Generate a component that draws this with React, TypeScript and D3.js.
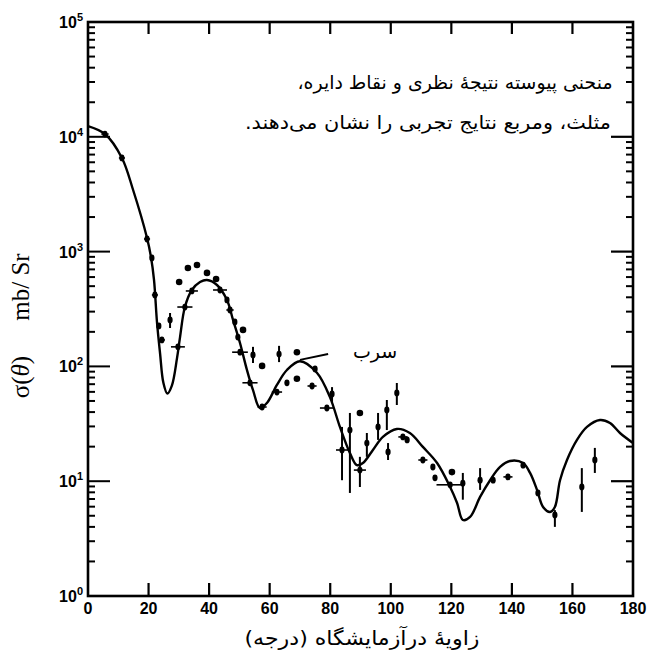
import React from "react";
import * as d3 from "d3";

// Theoretical (continuous) curve, angle in degrees, cross-section in mb/Sr
const theoryAngle = [0, 5.6, 11.2, 14.9, 19.5, 20.8, 21.8, 22.8, 23.8, 24.9, 26.2, 27.7, 29.4, 30.4, 32.0, 34.3, 37.0, 39.3, 42.6, 45.9, 47.9, 50.2, 52.5, 54.5, 56.8, 59.1, 62.4, 65.7, 70.0, 75.6, 79.9, 83.2, 86.5, 88.8, 90.8, 94.1, 97.4, 102.0, 106.3, 110.6, 115.3, 119.6, 121.9, 123.8, 126.2, 129.5, 132.8, 136.1, 139.4, 143.7, 146.0, 148.3, 150.3, 152.6, 154.2, 155.9, 158.2, 161.5, 164.8, 169.1, 172.4, 175.7, 180];
const theoryValue = [12400, 10570, 6540, 3440, 1313, 897, 566, 240, 130, 72, 58, 68, 118, 180, 329, 463, 543, 566, 512, 379, 254, 160, 93, 62, 43.4, 48, 69, 93, 111, 88, 54, 29.7, 17.6, 13.8, 14.4, 18.7, 24.3, 28.5, 26.3, 19.9, 14.4, 8.9, 6.46, 4.59, 4.88, 7.3, 10.2, 13.3, 15.0, 14.4, 11.8, 8.4, 5.96, 5.39, 5.96, 10.2, 15.3, 22.9, 29.7, 34.1, 32.1, 26.3, 21.5];

// Experimental points: filled circles
const circleAngle = [30.1, 33.0, 36.0, 39.3, 42.3, 51.2, 57.5, 69.0, 69.0, 89.8, 120.2];
const circleValue = [543, 720, 764, 652, 577, 208, 101, 133, 78, 39.3, 12.0];

// Experimental points: triangles / squares with error bars
const pointAngle = [5.6, 11.2, 19.5, 21.1, 22.1, 23.4, 24.4, 27.1, 29.7, 32.0, 34.3, 43.6, 45.9, 46.9, 48.5, 49.5, 50.2, 54.5, 53.5, 57.5, 63.1, 62.4, 65.7, 74.0, 75.0, 80.6, 78.9, 83.9, 86.5, 89.8, 92.1, 95.8, 98.7, 99.1, 102.0, 104.0, 105.4, 110.6, 113.9, 114.6, 119.6, 123.8, 129.5, 133.8, 138.7, 143.7, 148.6, 154.2, 163.1, 167.4];
const pointValue = [10570, 6540, 1288, 880, 419, 225, 170, 254, 148, 329, 454, 463, 379, 310, 244, 180, 133, 126, 72, 44.3, 128, 59.8, 72, 67.5, 95, 57.5, 43.4, 18.7, 27.9, 12.5, 21.5, 29.7, 41.7, 18.0, 58.7, 24.3, 22.9, 15.3, 13.3, 10.7, 9.3, 9.6, 10.2, 10.2, 10.9, 13.8, 7.9, 5.08, 8.9, 15.3];
const pointLow: (number | null)[] = [null, null, null, null, null, null, null, 216, null, null, null, null, null, null, null, null, null, 107, null, null, 109, null, null, null, null, 49, null, 10.2, 7.9, 8.9, 16.3, 22.9, 27.9, 15.3, 46.1, null, null, null, null, null, null, 6.9, 8.4, null, null, null, null, 4.0, 5.4, 11.8];
const pointHigh: (number | null)[] = [null, null, null, null, null, null, null, 292, null, null, null, null, null, null, null, null, null, 148, null, null, 151, null, null, null, null, 66, null, 29.7, 39.3, 16.3, 26.3, 39.3, 51, 21.5, 71.7, null, null, null, null, null, null, 11.8, 13.0, null, null, null, null, 5.6, 13.0, 19.5];
const pointSpread = [1.2, 1.0, 1.0, 0, 1.0, 0, 1.0, 0, 2.3, 2.5, 2.0, 2.3, 0, 1.2, 0, 0, 2.6, 0, 2.5, 1.5, 0, 1.7, 0, 1.5, 0, 0, 2.3, 2.0, 0, 2.0, 0, 0, 0, 0, 0, 1.5, 0, 1.5, 0, 0, 4.5, 0, 0, 0, 1.5, 0, 0, 0, 0, 0];

const xTicks = [0, 20, 40, 60, 80, 100, 120, 140, 160, 180];
const yExponents = [0, 1, 2, 3, 4, 5];

const noteLines = [
  "منحنی پیوسته نتیجهٔ نظری و نقاط دایره،",
  "مثلث، ومربع نتایج تجربی را نشان می‌دهند.",
];
const leadLabel = "سرب";
const xTitle = "زاویهٔ درآزمایشگاه (درجه)";

export default function App() {
  const W = 656, H = 652;
  const left = 88, right = 633, top = 22, bottom = 596;
  const x = d3.scaleLinear().domain([0, 180]).range([left, right]);
  const y = d3.scaleLog().domain([1, 1e5]).range([bottom, top]);

  const line = d3
    .line<number>()
    .x((_, i) => x(theoryAngle[i]))
    .y((d) => y(d))
    .curve(d3.curveCatmullRom.alpha(0.5));

  const minor: number[] = [];
  for (let e = 0; e < 5; e++) for (let m = 2; m <= 9; m++) minor.push(m * Math.pow(10, e));

  const persian = "'DejaVu Sans', sans-serif";
  const tickFont = "'Liberation Sans', Arial, sans-serif";
  const serif = "'Liberation Serif', 'DejaVu Serif', serif";

  return (
    <svg width={W} height={H} style={{ position: "absolute", left: 0, top: 0, background: "#fff" }}>
      <rect x={0} y={0} width={W} height={H} fill="#fff" />
      {/* frame */}
      <rect x={left} y={top} width={right - left} height={bottom - top} fill="none" stroke="#000" strokeWidth={2.6} />
      {/* x ticks top and bottom */}
      {xTicks.slice(1, -1).map((t) => (
        <g key={"xt" + t}>
          <line x1={x(t)} x2={x(t)} y1={bottom} y2={bottom - 13} stroke="#000" strokeWidth={2.2} />
          <line x1={x(t)} x2={x(t)} y1={top} y2={top + 12} stroke="#000" strokeWidth={2.2} />
        </g>
      ))}
      {/* y minor ticks */}
      {minor.map((v) => (
        <g key={"ym" + v}>
          <line x1={left} x2={left + 7} y1={y(v)} y2={y(v)} stroke="#000" strokeWidth={2} />
          <line x1={right} x2={right - 7} y1={y(v)} y2={y(v)} stroke="#000" strokeWidth={2} />
        </g>
      ))}
      {/* y major ticks */}
      {yExponents.slice(1, -1).map((e) => (
        <g key={"yM" + e}>
          <line x1={left} x2={left + 22} y1={y(Math.pow(10, e))} y2={y(Math.pow(10, e))} stroke="#000" strokeWidth={2} />
          <line x1={right} x2={right - 22} y1={y(Math.pow(10, e))} y2={y(Math.pow(10, e))} stroke="#000" strokeWidth={2.2} />
        </g>
      ))}
      {/* x tick labels */}
      {xTicks.map((t) => (
        <text key={"xl" + t} x={x(t)} y={614} textAnchor="middle" fontFamily={tickFont} fontWeight="bold" fontSize={16}>
          {t}
        </text>
      ))}
      {/* y tick labels */}
      {yExponents.map((e) => (
        <text key={"yl" + e} x={83} y={y(Math.pow(10, e)) + 6} textAnchor="end" fontFamily={tickFont} fontWeight="bold" fontSize={16}>
          10
          <tspan fontSize={11} dy={-7}>{e}</tspan>
        </text>
      ))}
      {/* y axis title */}
      <text transform="translate(29,377) rotate(-90)" textAnchor="middle" fontFamily={serif} fontSize={25}>
        σ(<tspan fontStyle="italic">θ</tspan>)
      </text>
      <text transform="translate(29,287) rotate(-90)" textAnchor="middle" fontFamily={serif} fontSize={25}>
        mb/ Sr
      </text>
      {/* x axis title */}
      <text x={362} y={645} textAnchor="middle" direction="rtl" fontFamily={persian} fontSize={20} textLength={235} lengthAdjust="spacingAndGlyphs">
        {xTitle}
      </text>
      {/* annotation */}
      <text x={455} y={89} textAnchor="middle" direction="rtl" fontFamily={persian} fontSize={19} textLength={315} lengthAdjust="spacingAndGlyphs">
        {noteLines[0]}
      </text>
      <text x={428} y={129} textAnchor="middle" direction="rtl" fontFamily={persian} fontSize={19} textLength={366} lengthAdjust="spacingAndGlyphs">
        {noteLines[1]}
      </text>
      {/* theory curve */}
      <path d={line(theoryValue) || ""} fill="none" stroke="#000" strokeWidth={2.4} strokeLinejoin="round" />
      {/* lead label */}
      <line x1={x(70)} y1={y(114)} x2={x(79.3)} y2={y(128)} stroke="#000" strokeWidth={2} />
      <text x={x(94.8)} y={y(133) + 6} textAnchor="middle" direction="rtl" fontFamily={persian} fontSize={19}>
        {leadLabel}
      </text>
      {/* experimental points with bars */}
      {pointAngle.map((a, i) => {
        const cx = x(a), cy = y(pointValue[i]);
        const lo = pointLow[i], hi = pointHigh[i];
        const s = pointSpread[i];
        return (
          <g key={"p" + i}>
            {lo !== null && hi !== null && (
              <line x1={cx} x2={cx} y1={y(lo)} y2={y(hi)} stroke="#000" strokeWidth={2} />
            )}
            {s > 0 && (
              <line x1={x(a - s)} x2={x(a + s)} y1={cy} y2={cy} stroke="#000" strokeWidth={1.6} />
            )}
            <ellipse cx={cx} cy={cy} rx={2.6} ry={3.4} fill="#000" />
          </g>
        );
      })}
      {/* filled circles */}
      {circleAngle.map((a, i) => (
        <circle key={"c" + i} cx={x(a)} cy={y(circleValue[i])} r={3.3} fill="#000" />
      ))}
    </svg>
  );
}
